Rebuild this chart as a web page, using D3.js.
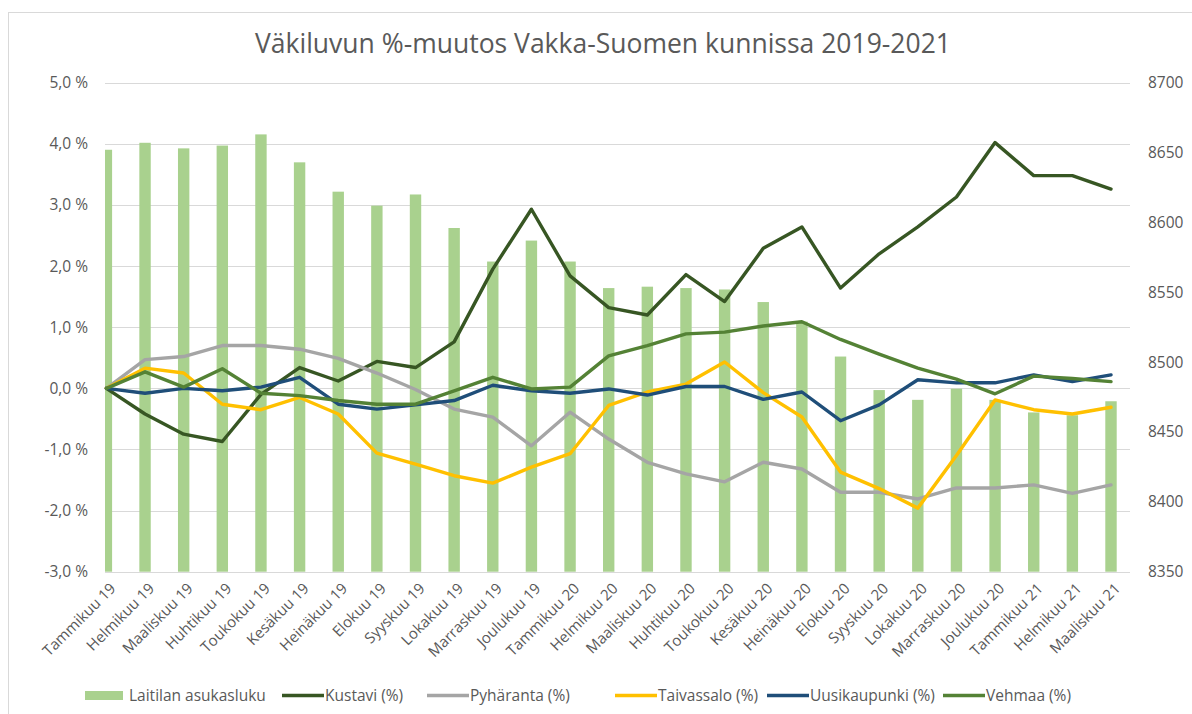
<!DOCTYPE html>
<html><head><meta charset="utf-8">
<script src="https://cdn.jsdelivr.net/npm/d3@7"></script>
<style>
html,body{margin:0;padding:0;background:#fff;}
svg{display:block;font-family:"Open Sans",sans-serif;}
</style></head>
<body><svg id="c" width="1192" height="714"></svg>
<script>
const categories = ["Tammikuu 19","Helmikuu 19","Maaliskuu 19","Huhtikuu 19","Toukokuu 19","Kesäkuu 19","Heinäkuu 19","Elokuu 19","Syyskuu 19","Lokakuu 19","Marraskuu 19","Joulukuu 19",
"Tammikuu 20","Helmikuu 20","Maaliskuu 20","Huhtikuu 20","Toukokuu 20","Kesäkuu 20","Heinäkuu 20","Elokuu 20","Syyskuu 20","Lokakuu 20","Marraskuu 20","Joulukuu 20",
"Tammikuu 21","Helmikuu 21","Maaliskuu 21"];
const laitila = [8652,8657,8653,8655,8663,8643,8622,8612,8620,8596,8572,8587,8572,8553,8554,8553,8552,8543,8529,8504,8480,8473,8481,8473,8464,8462,8472];
const kustavi = [0,-0.42,-0.75,-0.87,-0.10,0.34,0.12,0.44,0.34,0.76,1.95,2.93,1.84,1.32,1.20,1.86,1.42,2.29,2.64,1.64,2.20,2.64,3.13,4.02,3.48,3.48,3.26];
const pyharanta = [0,0.47,0.52,0.70,0.70,0.64,0.49,0.25,-0.02,-0.34,-0.47,-0.94,-0.39,-0.83,-1.21,-1.40,-1.53,-1.21,-1.32,-1.70,-1.70,-1.81,-1.63,-1.63,-1.58,-1.72,-1.58];
const taivassalo = [0,0.33,0.25,-0.26,-0.35,-0.15,-0.42,-1.06,-1.24,-1.43,-1.55,-1.29,-1.07,-0.28,-0.06,0.07,0.43,-0.07,-0.47,-1.37,-1.64,-1.96,-1.10,-0.19,-0.35,-0.42,-0.31];
const uusikaupunki = [0,-0.08,0.00,-0.04,0.02,0.18,-0.26,-0.34,-0.27,-0.20,0.05,-0.04,-0.08,-0.01,-0.11,0.03,0.03,-0.18,-0.06,-0.53,-0.27,0.14,0.09,0.09,0.22,0.11,0.22];
const vehmaa = [0,0.27,0.02,0.32,-0.08,-0.12,-0.20,-0.26,-0.26,-0.04,0.18,-0.01,0.02,0.53,0.70,0.89,0.92,1.02,1.09,0.80,0.56,0.33,0.15,-0.09,0.20,0.16,0.11];
const leftTicks = [-3,-2,-1,0,1,2,3,4,5];
const rightTicks = [8350,8400,8450,8500,8550,8600,8650,8700];
const title = "Väkiluvun %-muutos Vakka-Suomen kunnissa 2019-2021";
const barName = "Laitilan asukasluku";
const lineSeries = [
  {name:"Kustavi (%)", values:kustavi, color:"#375623"},
  {name:"Pyhäranta (%)", values:pyharanta, color:"#a5a5a5"},
  {name:"Taivassalo (%)", values:taivassalo, color:"#ffc000"},
  {name:"Uusikaupunki (%)", values:uusikaupunki, color:"#1f4e79"},
  {name:"Vehmaa (%)", values:vehmaa, color:"#548235"}
];
const barColor = "#a9d18e";
const textColor = "#595959";
const gridColor = "#d9d9d9";

const svg = d3.select("#c");
const plotL = 105, plotR = 1130, plotT = 82.7, plotB = 571.7;

// outer border
svg.append("rect").attr("x",8.5).attr("y",12.5).attr("width",1300).attr("height",900)
  .attr("fill","none").attr("stroke","#d9d9d9").attr("stroke-width",1);

const x = d3.scalePoint().domain(categories).range([106.4, 1111]);
const yL = d3.scaleLinear().domain([-3,5]).range([plotB, plotT]);
const yR = d3.scaleLinear().domain([8350,8700]).range([plotB, plotT]);

// gridlines
svg.append("g").selectAll("line").data(leftTicks).join("line")
  .attr("x1",plotL).attr("x2",plotR)
  .attr("y1",d=>Math.round(yL(d))+0.5).attr("y2",d=>Math.round(yL(d))+0.5)
  .attr("stroke",gridColor).attr("stroke-width",1.2);

// clip
svg.append("clipPath").attr("id","clip").append("rect")
  .attr("x",plotL).attr("y",0).attr("width",plotR-plotL).attr("height",plotB+1);

const barW = x.step()*0.295;
svg.append("g").attr("clip-path","url(#clip)").selectAll("rect").data(laitila).join("rect")
  .attr("x",(d,i)=>x(categories[i])-barW/2).attr("width",barW)
  .attr("y",d=>yR(d)).attr("height",d=>plotB-yR(d))
  .attr("fill",barColor);

const line = d3.line().x((d,i)=>x(categories[i])).y(d=>yL(d));
svg.append("g").selectAll("path").data(lineSeries).join("path")
  .attr("d",s=>line(s.values)).attr("fill","none").attr("stroke",s=>s.color)
  .attr("stroke-width",3.4).attr("stroke-linejoin","round").attr("stroke-linecap","round");

// axes
const fmtL = d => d.toFixed(1).replace(".", ",") + " %";
const gL = svg.append("g").attr("transform",`translate(${plotL},0)`)
  .call(d3.axisLeft(yL).tickValues(leftTicks).tickFormat(fmtL).tickSize(0).tickPadding(17));
const gR = svg.append("g").attr("transform",`translate(${plotR},0)`)
  .call(d3.axisRight(yR).tickValues(rightTicks).tickFormat(d3.format("d")).tickSize(0).tickPadding(18));
[gL,gR].forEach(g=>{
  g.select(".domain").remove();
  g.selectAll("text").attr("fill",textColor).style("font-size","15.5px").style("font-family","'Open Sans',sans-serif");
});

const gX = svg.append("g").attr("transform",`translate(0,${plotB})`)
  .call(d3.axisBottom(x).tickSize(0).tickPadding(0));
gX.select(".domain").remove();
gX.selectAll(".tick text")
  .attr("fill",textColor).style("font-size","15px").style("font-family","'Open Sans',sans-serif")
  .attr("text-anchor","end").attr("y",0).attr("dy","0.35em")
  .attr("transform","translate(6,14) rotate(-45)");

// title
svg.append("text").attr("x",603).attr("y",53).attr("text-anchor","middle")
  .attr("fill",textColor).style("font-size","26.5px").text(title);

// legend
const legend = svg.append("g").attr("transform","translate(0,696)");
const items = [{name:barName, type:"bar", color:barColor}].concat(lineSeries.map(s=>({name:s.name,type:"line",color:s.color})));
const legX = [85, 282, 427, 615, 767, 943];
items.forEach((it,i)=>{
  const g = legend.append("g").attr("transform",`translate(${legX[i]},0)`);
  if(it.type==="bar") g.append("rect").attr("x",0).attr("y",-5).attr("width",38).attr("height",9).attr("fill",it.color);
  else g.append("line").attr("x1",0).attr("x2",42).attr("y1",-0.5).attr("y2",-0.5).attr("stroke",it.color).attr("stroke-width",3.4);
  g.append("text").attr("x",it.type==="bar"?44:43).attr("y",0).attr("dy","0.35em")
    .attr("fill",textColor).style("font-size","15.5px").text(it.name);
});
</script></body></html>
